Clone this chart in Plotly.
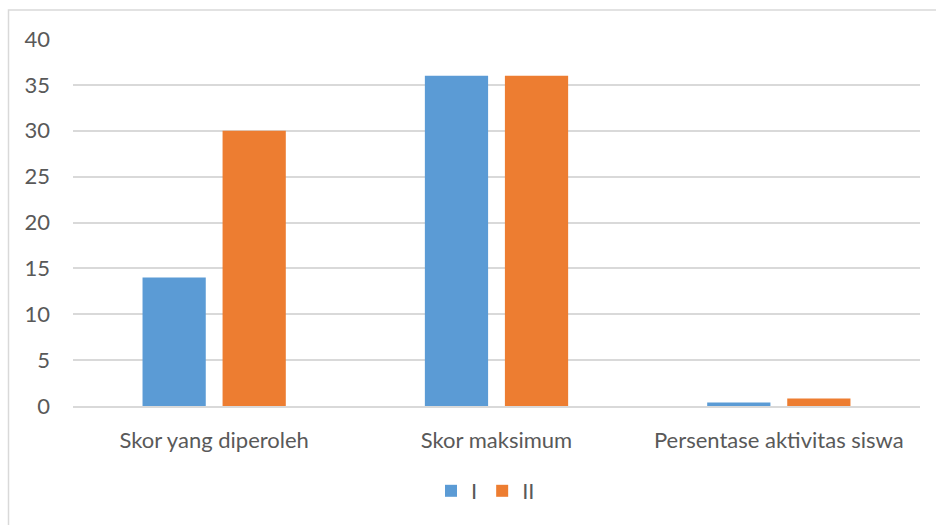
import plotly.graph_objects as go

categories = ["Skor yang diperoleh", "Skor maksimum", "Persentase aktivitas siswa"]
series_names = ["I", "II"]
values_I = [14, 36, 0.39]
values_II = [30, 36, 0.83]
y_ticks = [0, 5, 10, 15, 20, 25, 30, 35, 40]

colors = ["#5B9BD5", "#ED7D31"]
font_family = "Lato, 'Open Sans', sans-serif"
text_color = "#595959"
fs = 22

fig = go.Figure()
for name, vals, col in zip(series_names, [values_I, values_II], colors):
    fig.add_trace(go.Bar(x=categories, y=vals, name=name, marker_color=col,
                         marker_line_width=0))

W, H = 936, 525
ml, mr, mt, mb = 73, 16, 39, 119
pw, ph = W - ml - mr, H - mt - mb

def px_x(p):
    return (p - ml) / pw

def px_y(p):
    return (H - mb - p) / ph

# outer chart frame
fig.add_shape(type="rect", xref="paper", yref="paper",
              x0=px_x(8.5), x1=px_x(960), y0=px_y(10), y1=px_y(560),
              line=dict(color="#d9d9d9", width=1.5), fillcolor="rgba(0,0,0,0)",
              layer="below")

fig.update_layout(
    width=W, height=H,
    margin=dict(l=ml, r=mr, t=mt, b=mb),
    paper_bgcolor="white", plot_bgcolor="white",
    barmode="group", bargap=0.433, bargroupgap=0.21,
    font=dict(family=font_family, size=fs, color=text_color),
    showlegend=True,
    legend=dict(orientation="h", x=px_x(431), xanchor="left", y=px_y(491), yanchor="middle",
                font=dict(size=fs, color=text_color), itemwidth=30,
                traceorder="normal"),
    xaxis=dict(showgrid=False, showline=True, linecolor="#d9d9d9", linewidth=1.5,
               ticks="", ticklabelstandoff=14, tickfont=dict(size=fs, color=text_color)),
    yaxis=dict(range=[0, 40], tickvals=y_ticks, showgrid=True, gridcolor="#d9d9d9",
               gridwidth=1.5, zeroline=False, showline=False, ticks="",
               ticklabelstandoff=22, tickfont=dict(size=fs, color=text_color)),
)

fig.write_html("out.html")
